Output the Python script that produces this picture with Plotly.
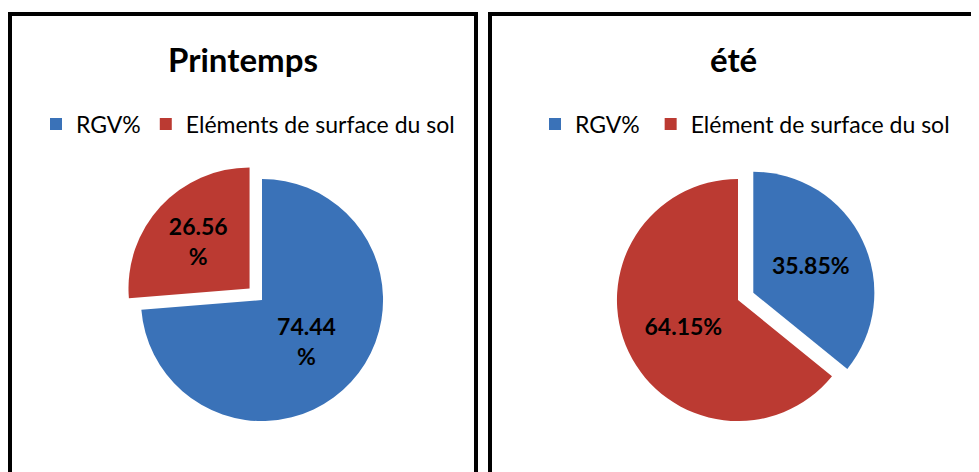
import plotly.graph_objects as go

W, H = 979, 472
OFF = 8  # page body margin offset

titles = ["Printemps", "été"]
labels_left = ["RGV%", "Eléments de surface du sol"]
labels_right = ["RGV% ", "Elément de surface du sol"]
values_left = [74.44, 26.56]
values_right = [35.85, 64.15]
colors = ["#3a72b8", "#bb3a32"]

def px_x(v):
    return (v - OFF) / W

def px_y(v):
    return 1 - (v - OFF) / H

fig = go.Figure()

# left pie
cxL, cyL, rL = 262, 300, 138
fig.add_trace(go.Pie(
    labels=labels_left, values=values_left, sort=False, direction="clockwise", rotation=0,
    pull=[0, 0.14],
    marker=dict(colors=colors, line=dict(color="white", width=0)),
    texttemplate=["%{value:.2f}<br>%", "%{value:.2f}<br>%"],
    textposition="inside", insidetextorientation="horizontal",
    textfont=dict(family="Lato", size=23, color="black", weight="bold"),
    domain=dict(x=[px_x(cxL - rL), px_x(cxL + rL)], y=[px_y(cyL + rL), px_y(cyL - rL)]),
    legend="legend", showlegend=True, hoverinfo="label+value",
))

# right pie
cxR, cyR, rR = 738, 300, 138
fig.add_trace(go.Pie(
    labels=labels_right, values=values_right, sort=False, direction="clockwise", rotation=0,
    pull=[0.14, 0],
    marker=dict(colors=colors, line=dict(color="white", width=0)),
    texttemplate="%{value:.2f}%",
    textposition="inside", insidetextorientation="horizontal",
    textfont=dict(family="Lato", size=23, color="black", weight="bold"),
    domain=dict(x=[px_x(cxR - rR), px_x(cxR + rR)], y=[px_y(cyR + rR), px_y(cyR - rR)]),
    legend="legend2", showlegend=True, hoverinfo="label+value",
))

shapes = [
    dict(type="rect", xref="paper", yref="paper",
         x0=px_x(10), x1=px_x(476), y0=px_y(490), y1=px_y(14),
         line=dict(color="black", width=4), fillcolor="rgba(0,0,0,0)"),
    dict(type="rect", xref="paper", yref="paper",
         x0=px_x(490), x1=px_x(1000), y0=px_y(490), y1=px_y(14),
         line=dict(color="black", width=4), fillcolor="rgba(0,0,0,0)"),
]

annotations = [
    dict(text=titles[0], x=px_x(243), y=px_y(59), xref="paper", yref="paper",
         showarrow=False, xanchor="center", yanchor="middle",
         font=dict(family="Lato", size=33, color="black", weight="bold")),
    dict(text=titles[1], x=px_x(733), y=px_y(59), xref="paper", yref="paper",
         showarrow=False, xanchor="center", yanchor="middle",
         font=dict(family="Lato", size=33, color="black", weight="bold")),
]

legend_font = dict(family="Lato", size=23, color="black")
fig.update_layout(
    width=W, height=H,
    margin=dict(l=0, r=0, t=0, b=0),
    paper_bgcolor="white", plot_bgcolor="white",
    shapes=shapes, annotations=annotations,
    legend=dict(orientation="h", x=px_x(248), y=px_y(124), xanchor="center", yanchor="middle",
                font=legend_font, bgcolor="rgba(0,0,0,0)", itemclick=False, itemwidth=30),
    legend2=dict(orientation="h", x=px_x(745), y=px_y(124), xanchor="center", yanchor="middle",
                 font=legend_font, bgcolor="rgba(0,0,0,0)", itemclick=False, itemwidth=30),
)

fig.write_html("out.html")
